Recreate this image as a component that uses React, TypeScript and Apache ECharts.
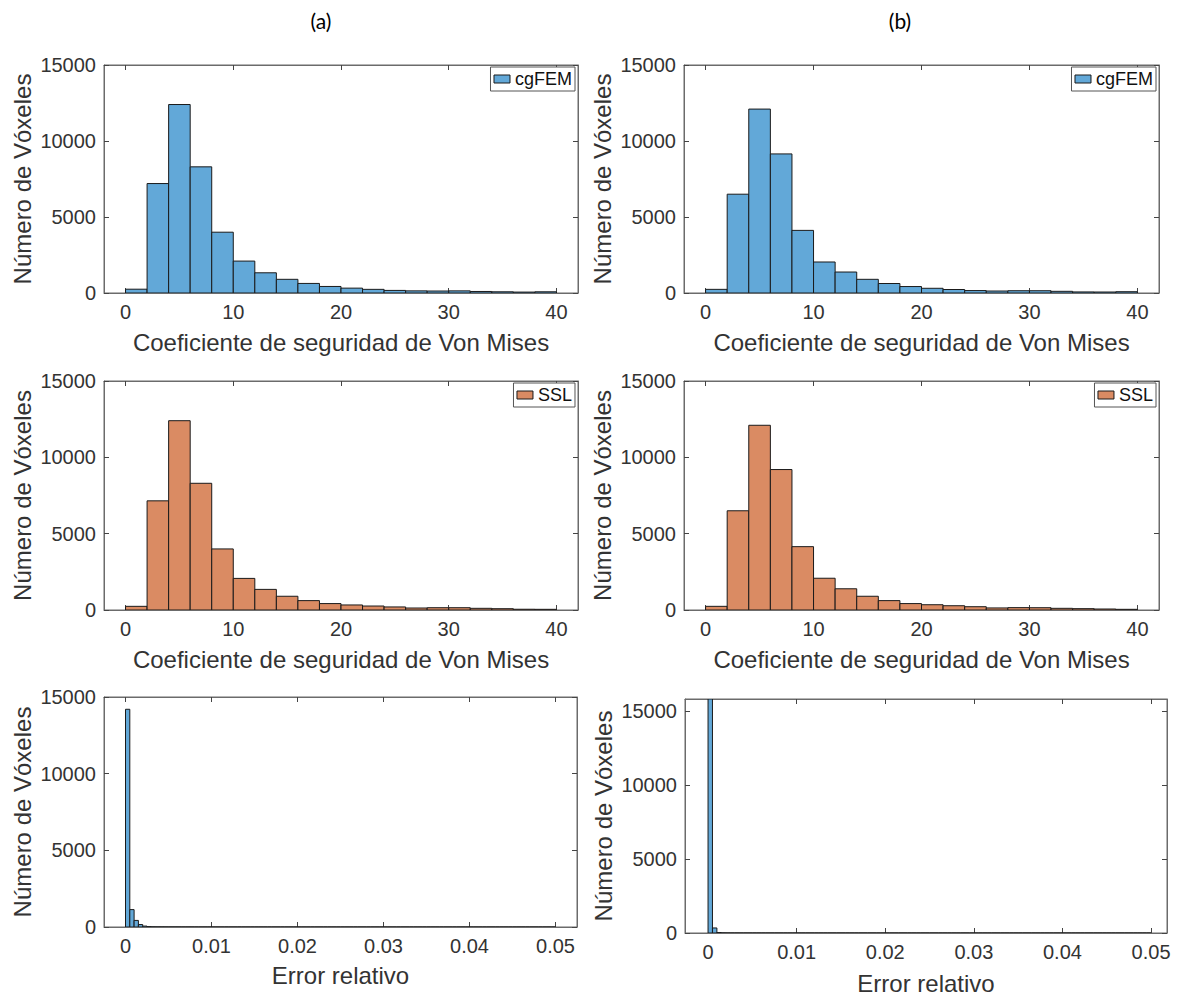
import React, { useEffect, useRef } from "react";
import * as echarts from "echarts";

// ---------------- data ----------------
const panelTitles = ["(a)", "(b)"];
const seriesNames = ["cgFEM", "SSL"];

const vmBinEdges = [0, 2, 4, 6, 8, 10, 12, 14, 16, 18, 20, 22, 24, 26, 28, 30, 32, 34, 36, 38, 40];
const cgFEM_a = [250, 7200, 12400, 8300, 4000, 2100, 1330, 900, 630, 430, 320, 240, 170, 140, 130, 140, 100, 80, 60, 80];
const SSL_a = [240, 7150, 12400, 8300, 4000, 2070, 1350, 900, 615, 420, 330, 260, 200, 130, 150, 150, 110, 85, 50, 45];
const cgFEM_b = [240, 6500, 12100, 9150, 4120, 2040, 1380, 900, 625, 425, 310, 230, 160, 130, 150, 150, 110, 70, 65, 85];
const SSL_b = [240, 6500, 12100, 9200, 4150, 2080, 1390, 900, 615, 420, 345, 280, 215, 135, 155, 150, 110, 88, 65, 45];

const errBinWidth = 0.0005;
const errCounts_a = [
  14200, 1135, 430, 160, 60, 25, 12, 8, 6, 5, 4, 3, 3, 2, 2, 2, 1, 1, 1, 1,
  1, 1, 0, 1, 0, 0, 1, 0, 0, 0, 0, 0, 0, 0, 0, 0, 0, 0, 0, 0,
  0, 0, 0, 0, 0, 0, 0, 0, 0, 0, 0, 0, 0, 0, 0, 0, 0, 0, 0, 0,
  0, 0, 0, 0, 0, 0, 0, 0, 0, 0, 0, 0, 0, 0, 0, 0, 0, 0, 0, 0,
  0, 0, 0, 0, 0, 0, 0, 0, 0, 0, 0, 0, 0, 0, 0, 0, 0, 0, 0, 0,
];
const errCounts_b = [
  17200, 340, 30, 8, 3, 1, 1, 0, 0, 0, 0, 0, 0, 0, 0, 0, 0, 0, 0, 0,
  0, 0, 0, 0, 0, 0, 0, 0, 0, 0, 0, 0, 0, 0, 0, 0, 0, 0, 0, 0,
  0, 0, 0, 0, 0, 0, 0, 0, 0, 0, 0, 0, 0, 0, 0, 0, 0, 0, 0, 0,
  0, 0, 0, 0, 0, 0, 0, 0, 0, 0, 0, 0, 0, 0, 0, 0, 0, 0, 0, 0,
  0, 0, 0, 0, 0, 0, 0, 0, 0, 0, 0, 0, 0, 0, 0, 0, 0, 0, 0, 0,
];

const vmTicks = [0, 10, 20, 30, 40];
const errTicks = [0, 0.01, 0.02, 0.03, 0.04, 0.05];
const countTicks = [0, 5000, 10000, 15000];

const yAxisName = "Número de Vóxeles";
const vmAxisName = "Coeficiente de seguridad de Von Mises";
const errAxisName = "Error relativo";

// ---------------- styles ----------------
const BLUE = "#62a8d8";
const ORANGE = "#da8b63";
const FONT = "Arial, Liberation Sans, Helvetica, sans-serif";
const AXIS_COLOR = "#6b6b6b";
const TEXT_COLOR = "#333333";

type Panel = {
  left: number; top: number; width: number; height: number;
  xMin: number; xMax: number; yMax: number;
  xTicks: number[]; xName: string; xNameGap: number; labelMargin: number;
  data: number[][]; color: string; name: string | null;
  legendRight?: number; legendTop?: number;
};

const vmData = (counts: number[]) => counts.map((c, i) => [vmBinEdges[i], vmBinEdges[i + 1], c]);
const errData = (counts: number[]) => counts.map((c, i) => [i * errBinWidth, (i + 1) * errBinWidth, c]);

const panels: Panel[] = [
  { left: 104, top: 65, width: 474, height: 228, xMin: -2, xMax: 42, yMax: 15000, xTicks: vmTicks, xName: vmAxisName, xNameGap: 37, labelMargin: 9, data: vmData(cgFEM_a), color: BLUE, name: seriesNames[0], legendRight: 603, legendTop: 67 },
  { left: 684, top: 65, width: 475, height: 228, xMin: -2, xMax: 42, yMax: 15000, xTicks: vmTicks, xName: vmAxisName, xNameGap: 37, labelMargin: 9, data: vmData(cgFEM_b), color: BLUE, name: seriesNames[0], legendRight: 22, legendTop: 67 },
  { left: 104, top: 381, width: 474, height: 229, xMin: -2, xMax: 42, yMax: 15000, xTicks: vmTicks, xName: vmAxisName, xNameGap: 37, labelMargin: 9, data: vmData(SSL_a), color: ORANGE, name: seriesNames[1], legendRight: 603, legendTop: 383 },
  { left: 684, top: 381, width: 475, height: 229, xMin: -2, xMax: 42, yMax: 15000, xTicks: vmTicks, xName: vmAxisName, xNameGap: 37, labelMargin: 9, data: vmData(SSL_b), color: ORANGE, name: seriesNames[1], legendRight: 22, legendTop: 383 },
  { left: 104, top: 697, width: 473, height: 230, xMin: -0.0025, xMax: 0.0525, yMax: 15000, xTicks: errTicks, xName: errAxisName, xNameGap: 36, labelMargin: 9, data: errData(errCounts_a), color: BLUE, name: null },
  { left: 685, top: 699, width: 482, height: 234, xMin: -0.0026, xMax: 0.0518, yMax: 15800, xTicks: errTicks, xName: errAxisName, xNameGap: 38, labelMargin: 9, data: errData(errCounts_b), color: BLUE, name: null },
];

function buildOption() {
  const grid: any[] = [];
  const xAxis: any[] = [];
  const yAxis: any[] = [];
  const series: any[] = [];
  const legend: any[] = [];

  panels.forEach((p, gi) => {
    grid.push({ left: p.left, top: p.top, width: p.width, height: p.height, show: true, borderColor: AXIS_COLOR, borderWidth: 1, backgroundColor: "#fff" });
    const tickStyle = { show: true, inside: true, length: 5, lineStyle: { color: "#444", width: 1 } };
    xAxis.push({
      type: "value", gridIndex: gi, position: "bottom", min: p.xMin, max: p.xMax,
      name: p.xName, nameLocation: "middle", nameGap: p.xNameGap,
      nameTextStyle: { fontFamily: FONT, fontSize: 24, color: TEXT_COLOR },
      axisLine: { show: true, onZero: false, lineStyle: { color: AXIS_COLOR, width: 1 } },
      axisTick: { ...tickStyle, customValues: p.xTicks },
      axisLabel: { show: true, customValues: p.xTicks, margin: p.labelMargin, fontFamily: FONT, fontSize: 20, color: TEXT_COLOR, formatter: (v: number) => String(+v.toFixed(4)) },
      splitLine: { show: false },
    });
    xAxis.push({
      type: "value", gridIndex: gi, position: "top", min: p.xMin, max: p.xMax,
      axisLine: { show: true, onZero: false, lineStyle: { color: AXIS_COLOR, width: 1 } },
      axisTick: { ...tickStyle, customValues: p.xTicks },
      axisLabel: { show: false }, splitLine: { show: false },
    });
    yAxis.push({
      type: "value", gridIndex: gi, position: "left", min: 0, max: p.yMax,
      name: yAxisName, nameLocation: "middle", nameGap: 70, nameRotate: 90,
      nameTextStyle: { fontFamily: FONT, fontSize: 24, color: TEXT_COLOR },
      axisLine: { show: true, onZero: false, lineStyle: { color: AXIS_COLOR, width: 1 } },
      axisTick: { ...tickStyle, customValues: countTicks },
      axisLabel: { show: true, customValues: countTicks, margin: 8, fontFamily: FONT, fontSize: 20, color: TEXT_COLOR, formatter: (v: number) => String(Math.round(v)) },
      splitLine: { show: false },
    });
    yAxis.push({
      type: "value", gridIndex: gi, position: "right", min: 0, max: p.yMax,
      axisLine: { show: true, onZero: false, lineStyle: { color: AXIS_COLOR, width: 1 } },
      axisTick: { ...tickStyle, customValues: countTicks },
      axisLabel: { show: false }, splitLine: { show: false },
    });

    const color = p.color;
    series.push({
      type: "custom",
      name: p.name ?? `err${gi}`,
      xAxisIndex: gi * 2,
      yAxisIndex: gi * 2,
      encode: { x: [0, 1], y: 2 },
      data: p.data,
      clip: true,
      itemStyle: { color },
      renderItem: (params: any, api: any) => {
        const a = api.coord([api.value(0), api.value(2)]);
        const b = api.coord([api.value(1), 0]);
        const cs = params.coordSys;
        const yTop = Math.max(a[1], cs.y);
        return {
          type: "rect",
          shape: { x: a[0], y: yTop, width: b[0] - a[0], height: b[1] - yTop },
          style: { fill: color, stroke: "#1a1a1a", lineWidth: 1 },
        };
      },
    });

    if (p.name) {
      legend.push({
        data: [{ name: p.name, icon: "rect", itemStyle: { color, borderColor: "#1a1a1a", borderWidth: 1 } }],
        right: p.legendRight, top: p.legendTop,
        orient: "horizontal", selectedMode: false,
        backgroundColor: "#fff", borderColor: "#555", borderWidth: 1,
        padding: [3, 3, 3, 3], itemWidth: 16, itemHeight: 8, itemGap: 0,
        textStyle: { fontFamily: FONT, fontSize: 18, color: "#111" },
        z: 10,
      });
    }
  });

  const titleFont = "Lato, Open Sans, sans-serif";
  const graphic = [
    { type: "text", x: 321, y: 20, style: { text: panelTitles[0], fontFamily: titleFont, fontSize: 21, fill: "#000", align: "center", verticalAlign: "middle" } },
    { type: "text", x: 900, y: 20, style: { text: panelTitles[1], fontFamily: titleFont, fontSize: 21, fill: "#000", align: "center", verticalAlign: "middle" } },
  ];

  return { animation: false, backgroundColor: "#fff", grid, xAxis, yAxis, series, legend, graphic };
}

export default function App() {
  const ref = useRef<HTMLDivElement | null>(null);
  useEffect(() => {
    if (!ref.current) return;
    const chart = echarts.init(ref.current, null, { renderer: "svg" });
    chart.setOption(buildOption() as any);
    return () => chart.dispose();
  }, []);
  return <div ref={ref} style={{ position: "absolute", left: 0, top: 0, width: 1178, height: 998 }} />;
}
